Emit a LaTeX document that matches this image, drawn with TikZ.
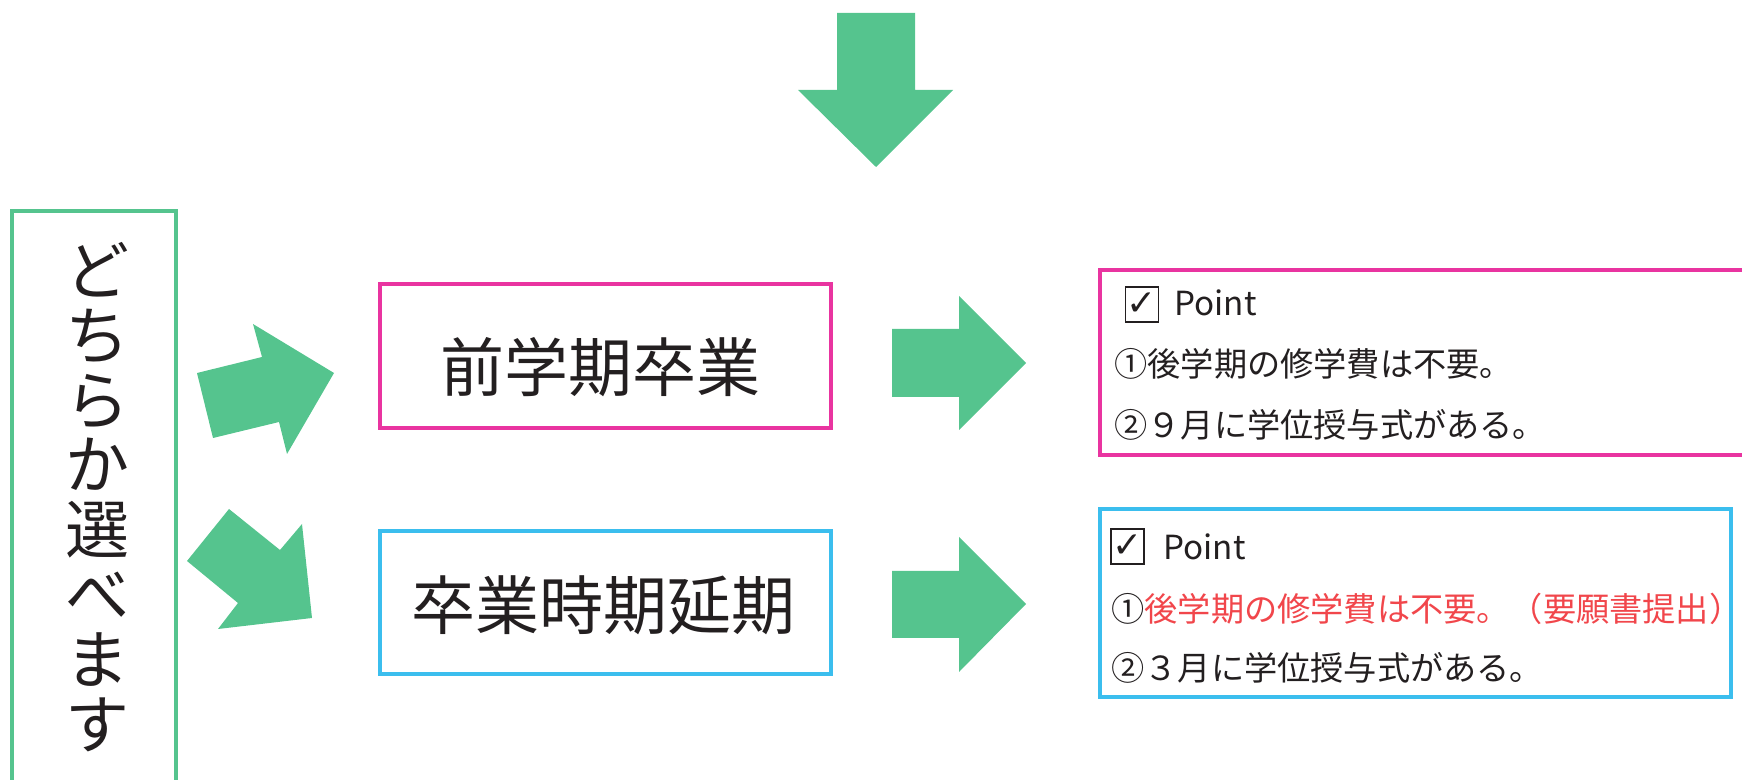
\documentclass[tikz,border=0pt]{standalone}
\usepackage{fontspec}
\newfontfamily\jp{Noto Sans CJK JP}
\newfontfamily\dejavu{DejaVu Sans}
\definecolor{grn}{RGB}{85,196,142}
\definecolor{pnk}{RGB}{233,52,160}
\definecolor{blu}{RGB}{59,190,238}
\definecolor{redt}{RGB}{241,70,75}
\definecolor{txt}{RGB}{35,31,32}
\tikzset{
  garrow/.style={fill=grn, draw=none},
  frame/.style={line width=2.2pt},
  bigtxt/.style={font=\jp\fontsize{32}{32}\selectfont, text=txt, inner sep=0pt},
  smalltxt/.style={font=\jp\fontsize{16.6}{16.6}\selectfont, text=txt, inner sep=0pt, anchor=west},
  chk/.style={font=\dejavu\fontsize{18}{18}\selectfont, text=txt, draw=txt, line width=0.8pt,
    minimum width=16.5pt, minimum height=17.5pt, inner sep=0pt},
}
\begin{document}
\begin{tikzpicture}[x=0.5pt,y=-0.5pt]
\useasboundingbox (0,0) rectangle (1742,780);
\clip (0,0) rectangle (1742,780);
% left frame
\draw[frame, draw=grn] (12,800) -- (12,211) -- (176,211) -- (176,800);
\node[bigtxt, align=center, font=\jp\fontsize{32}{32.4}\selectfont] (choose) at (97,497) {ど\\ち\\ら\\か\\選\\べ\\ま\\す};
% top arrow
\fill[garrow] (837,13) -- (915,13) -- (915,90) -- (953,90) -- (876,167) -- (798,90) -- (837,90) -- cycle;
% diagonal arrows
\fill[garrow] (213,438) -- (197,373) -- (262,357) -- (253,324) -- (334,373) -- (287,454) -- (279,422) -- cycle;
\fill[garrow] (229,509) -- (187,561) -- (238,603) -- (218,629) -- (312,618) -- (302,524) -- (280,550) -- cycle;
% middle boxes
\draw[frame, draw=pnk] (380,284) rectangle (831,428);
\node[bigtxt] (early) at (600,367) {前学期卒業};
\draw[frame, draw=blu] (380,531) rectangle (831,674);
\node[bigtxt] (extend) at (603,605) {卒業時期延期};
% right arrows
\fill[garrow] (892,329) -- (959,329) -- (959,296) -- (1026,363) -- (959,430) -- (959,397) -- (892,397) -- cycle;
\fill[garrow] (892,571) -- (959,571) -- (959,537) -- (1026,604) -- (959,672) -- (959,638) -- (892,638) -- cycle;
% right boxes
\draw[frame, draw=pnk] (1760,270) -- (1100,270) -- (1100,455) -- (1760,455);
\node[chk] (c1) at (1142,304.5) {✓};
\node[smalltxt] (p1) at (1174,303) {Point};
\node[smalltxt] (a1) at (1114,364) {①後学期の修学費は不要。};
\node[smalltxt] (b1) at (1114,425) {②９月に学位授与式がある。};
\draw[frame, draw=blu] (1100,509) rectangle (1731,697);
\node[chk] (c2) at (1127.5,546.5) {✓};
\node[smalltxt] (p2) at (1163,547) {Point};
\node[smalltxt] (a2) at (1111,609) {①\textcolor{redt}{後学期の修学費は不要。（要願書提出）}};
\node[smalltxt] (b2) at (1111,668) {②３月に学位授与式がある。};
\end{tikzpicture}
\end{document}
